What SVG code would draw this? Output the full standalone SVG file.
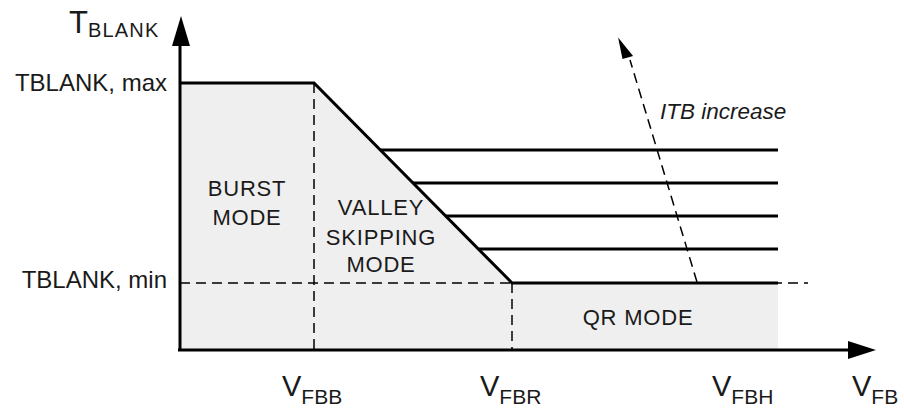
<svg xmlns="http://www.w3.org/2000/svg" width="904" height="410" viewBox="0 0 904 410">
<style>
.t{font-family:"Liberation Sans",Arial,sans-serif;fill:#1a1a1a}
.lbl{font-size:24px}
.mode{font-size:22px;letter-spacing:0.8px;text-anchor:middle}
.big{font-size:29px}
.sub{font-size:21px}
.solid{stroke:#000;stroke-width:3;fill:none}
.dash{stroke:#000;stroke-width:1.5;fill:none;stroke-dasharray:10 6}
</style>
<rect width="904" height="410" fill="#fff"/>
<g id="region">
<polygon points="180,83 314,83 512,283 778,283 778,350 180,350" fill="#efefef"/>
</g>
<g id="connectors">
<line class="dash" x1="314" y1="83" x2="314" y2="350"/>
<line class="dash" x1="512" y1="283" x2="512" y2="350"/>
<line class="dash" x1="180" y1="283" x2="808" y2="283"/>
<polyline class="solid" points="180,83 314,83 512,283 778,283"/>
<line class="solid" x1="380" y1="150" x2="778" y2="150"/>
<line class="solid" x1="413" y1="183" x2="778" y2="183"/>
<line class="solid" x1="446" y1="216" x2="778" y2="216"/>
<line class="solid" x1="479" y1="249" x2="778" y2="249"/>
<line class="dash" x1="697" y1="282" x2="630" y2="60"/>
<path d="M622,36 L631,58 L620,58 Z" fill="#000" transform="rotate(-16.8 625 50)"/>
<line stroke="#000" stroke-width="3" x1="180" y1="351" x2="180" y2="44"/>
<path d="M181,16 L190,46 L172,46 Z" fill="#000"/>
<line stroke="#000" stroke-width="3" x1="178" y1="350" x2="850" y2="350"/>
<path d="M876,350 L848,341 L848,359 Z" fill="#000"/>
</g>
<g id="axis-labels">
<text class="t" x="69" y="33"><tspan font-size="31">T</tspan><tspan font-size="20" letter-spacing="1.2" dy="4">BLANK</tspan></text>
<text class="t lbl" x="167" y="91" text-anchor="end">TBLANK, max</text>
<text class="t lbl" x="167" y="288" text-anchor="end">TBLANK, min</text>
<text class="t" x="282" y="396"><tspan class="big">V</tspan><tspan class="sub" dy="8">FBB</tspan></text>
<text class="t" x="480" y="396"><tspan class="big">V</tspan><tspan class="sub" dy="8">FBR</tspan></text>
<text class="t" x="712" y="396"><tspan class="big">V</tspan><tspan class="sub" dy="8">FBH</tspan></text>
<text class="t" x="852" y="396"><tspan class="big">V</tspan><tspan class="sub" dy="8">FB</tspan></text>
</g>
<g id="burst">
<text class="t mode" x="247" y="196">BURST</text>
<text class="t mode" x="247" y="225">MODE</text>
</g>
<g id="valley">
<text class="t mode" x="381" y="215">VALLEY</text>
<text class="t mode" x="381" y="245">SKIPPING</text>
<text class="t mode" x="381" y="272">MODE</text>
</g>
<g id="qr">
<text class="t mode" x="638" y="325">QR MODE</text>
</g>
<g id="itb">
<text class="t" x="660" y="119" font-size="22.5" font-style="italic">ITB increase</text>
</g>
</svg>
